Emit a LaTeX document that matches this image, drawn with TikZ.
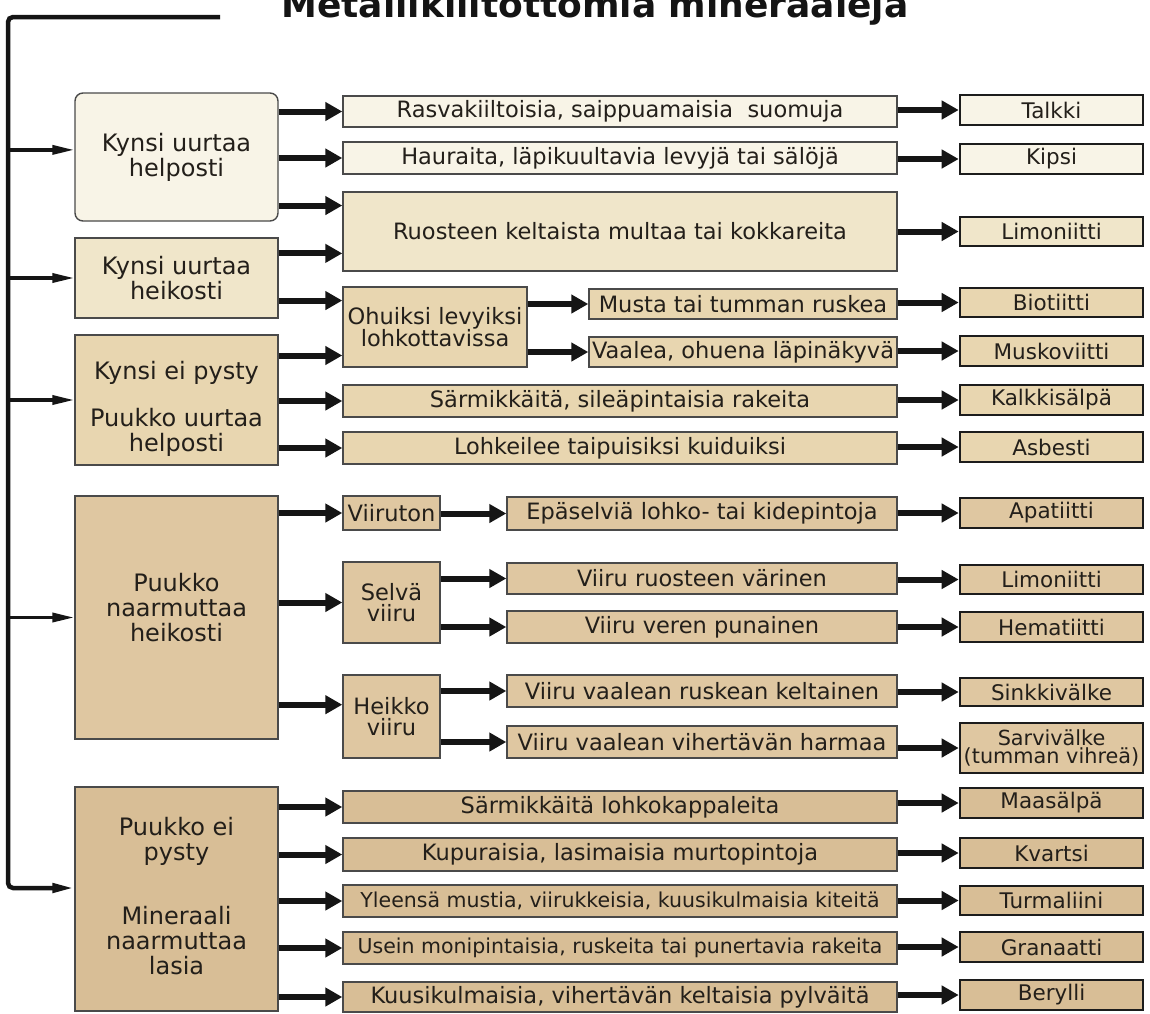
\documentclass[tikz,border=0pt]{standalone}
\usepackage{fontspec}
\setmainfont{DejaVu Sans}
\usetikzlibrary{arrows.meta,calc}
\definecolor{c1}{HTML}{F8F4E7}
\definecolor{c2}{HTML}{F0E6CA}
\definecolor{c3}{HTML}{E8D6B0}
\definecolor{c4}{HTML}{DFC7A1}
\definecolor{c5}{HTML}{D8BE96}
\definecolor{bd}{HTML}{4A4A4A}
\definecolor{fb}{HTML}{1C1C1C}
\definecolor{tx}{HTML}{231F1A}
\definecolor{ar}{HTML}{151515}
\begin{document}
\begin{tikzpicture}[x=1pt,y=-1pt,
  box/.style={draw=bd, line width=1.4pt, inner sep=0pt, align=center, text=tx},
  lbox/.style={box, font=\fontsize{24}{25}\selectfont},
  ltext/.style={inner sep=0pt, align=center, text=tx, font=\fontsize{24}{25}\selectfont},
  mbox/.style={box, font=\fontsize{22.5}{21}\selectfont},
  sbox/.style={box, font=\fontsize{20.5}{21}\selectfont},
  fbox/.style={draw=fb, line width=2.6pt, inner sep=0pt, align=center, text=tx, font=\fontsize{21.5}{16}\selectfont},
  arr/.style={line width=6pt, draw=ar, -{Triangle[length=17pt,width=18pt]}},
  tarr/.style={line width=3.5pt, draw=ar, -{Triangle[length=22pt,width=9pt]}},
  trunk/.style={line width=4.5pt, draw=ar, rounded corners=5pt}]
\useasboundingbox (0,0) rectangle (1150,1013);
\clip (0,0) rectangle (1150,1013);
\fill[white] (0,0) rectangle (1150,1013);

% title
\node[font=\fontsize{36}{36}\selectfont\bfseries, anchor=base, text=black!92] (title) at (595,17) {Metallikiiltottomia mineraaleja};

% left boxes
\node[lbox, fill=c1, rounded corners=8pt, minimum width=203, minimum height=128] (b1) at (176.5,157) {Kynsi uurtaa\\helposti};
\node[lbox, fill=c2, minimum width=203, minimum height=80] (b2) at (176.5,278) {Kynsi uurtaa\\heikosti};
\node[box, fill=c3, minimum width=203, minimum height=130] (b3) at (176.5,400) {};
\node[ltext] (t3) at (176.5,409) {Kynsi ei pysty\\[22pt]Puukko uurtaa\\helposti};
\node[box, fill=c4, minimum width=203, minimum height=243] (b4) at (176.5,617.5) {};
\node[ltext] (t4) at (176.5,608) {Puukko\\naarmuttaa\\heikosti};
\node[box, fill=c5, minimum width=203, minimum height=224] (b5) at (176.5,899) {};
\node[ltext] (t5) at (176.5,896) {Puukko ei\\pysty\\[39pt]Mineraali\\naarmuttaa\\lasia};

% middle boxes
\node[mbox, fill=c1, minimum width=554, minimum height=31] (m1) at (620,111.5) {Rasvakiiltoisia, saippuamaisia\ \ suomuja};
\node[mbox, fill=c1, minimum width=554, minimum height=32] (m2) at (620,158) {Hauraita, läpikuultavia levyjä tai sälöjä};
\node[mbox, fill=c2, minimum width=554, minimum height=79] (m3) at (620,231.5) {Ruosteen keltaista multaa tai kokkareita};
\node[mbox, fill=c3, minimum width=184, minimum height=80] (o) at (435,327) {Ohuiksi levyiksi\\lohkottavissa};
\node[mbox, fill=c3, minimum width=308, minimum height=30] (s1) at (743,304) {Musta tai tumman ruskea};
\node[mbox, fill=c3, minimum width=308, minimum height=30] (s2) at (743,352) {Vaalea, ohuena läpinäkyvä};
\node[mbox, fill=c3, minimum width=554, minimum height=32] (m4) at (620,401) {Särmikkäitä, sileäpintaisia rakeita};
\node[mbox, fill=c3, minimum width=554, minimum height=32] (m5) at (620,448) {Lohkeilee taipuisiksi kuiduiksi};

\node[mbox, fill=c4, minimum width=97, minimum height=34] (v0) at (391.5,513) {Viiruton};
\node[mbox, fill=c4, minimum width=97, minimum height=81] (v1) at (391.5,602.5) {Selvä\\viiru};
\node[mbox, fill=c4, minimum width=97, minimum height=83] (v2) at (391.5,716.5) {Heikko\\viiru};
\node[mbox, fill=c4, minimum width=390, minimum height=33] (e0) at (702,513.5) {Epäselviä lohko- tai kidepintoja};
\node[mbox, fill=c4, minimum width=390, minimum height=31] (e1) at (702,578.5) {Viiru ruosteen värinen};
\node[mbox, fill=c4, minimum width=390, minimum height=32] (e2) at (702,627) {Viiru veren punainen};
\node[mbox, fill=c4, minimum width=390, minimum height=32] (e3) at (702,691) {Viiru vaalean ruskean keltainen};
\node[mbox, fill=c4, minimum width=390, minimum height=32] (e4) at (702,742) {Viiru vaalean vihertävän harmaa};

\node[mbox, fill=c5, minimum width=554, minimum height=32] (n1) at (620,807) {Särmikkäitä lohkokappaleita};
\node[mbox, fill=c5, minimum width=554, minimum height=33] (n2) at (620,854.5) {Kupuraisia, lasimaisia murtopintoja};
\node[sbox, fill=c5, minimum width=554, minimum height=32] (n3) at (620,901) {Yleensä mustia, viirukkeisia, kuusikulmaisia kiteitä};
\node[sbox, fill=c5, minimum width=554, minimum height=32] (n4) at (620,948) {Usein monipintaisia, ruskeita tai punertavia rakeita};
\node[mbox, fill=c5, minimum width=554, minimum height=30] (n5) at (620,997) {Kuusikulmaisia, vihertävän keltaisia pylväitä};

% final boxes
\node[fbox, fill=c1, minimum width=183, minimum height=30] (f1) at (1051.5,110) {Talkki};
\node[fbox, fill=c1, minimum width=183, minimum height=30] (f2) at (1051.5,159) {Kipsi};
\node[fbox, fill=c2, minimum width=183, minimum height=29] (f3) at (1051.5,231.5) {Limoniitti};
\node[fbox, fill=c3, minimum width=183, minimum height=29] (f4) at (1051.5,302.5) {Biotiitti};
\node[fbox, fill=c3, minimum width=183, minimum height=30] (f5) at (1051.5,351) {Muskoviitti};
\node[fbox, fill=c3, minimum width=183, minimum height=30] (f6) at (1051.5,400) {Kalkkisälpä};
\node[fbox, fill=c3, minimum width=183, minimum height=30] (f7) at (1051.5,447) {Asbesti};
\node[fbox, fill=c4, minimum width=183, minimum height=30] (f8) at (1051.5,513) {Apatiitti};
\node[fbox, fill=c4, minimum width=183, minimum height=29] (f9) at (1051.5,579.5) {Limoniitti};
\node[fbox, fill=c4, minimum width=183, minimum height=30] (f10) at (1051.5,627) {Hematiitti};
\node[fbox, fill=c4, minimum width=183, minimum height=28] (f11) at (1051.5,692) {Sinkkivälke};
\node[fbox, fill=c4, minimum width=183, minimum height=50, font=\fontsize{20.8}{15.5}\selectfont] (f12) at (1051.5,748) {Sarvivälke\\(tumman vihreä)};
\node[fbox, fill=c5, minimum width=183, minimum height=30] (f13) at (1051.5,803) {Maasälpä};
\node[fbox, fill=c5, minimum width=183, minimum height=30] (f14) at (1051.5,853) {Kvartsi};
\node[fbox, fill=c5, minimum width=183, minimum height=29] (f15) at (1051.5,900.5) {Turmaliini};
\node[fbox, fill=c5, minimum width=183, minimum height=30] (f16) at (1051.5,947) {Granaatti};
\node[fbox, fill=c5, minimum width=183, minimum height=30] (f17) at (1051.5,995) {Berylli};

% helper coordinates
\coordinate (ttop) at (220,17);
\coordinate (tcorner) at (8,17);
\coordinate (tbot) at (8,888);
\coordinate (b1a) at ($(b1.north west)!0.445!(b1.south west)$);
\coordinate (m3a) at ($(m3.north west)!0.177!(m3.south west)$);
\coordinate (m3b) at ($(m3.north west)!0.772!(m3.south west)$);
\coordinate (oa) at ($(o.north west)!0.175!(o.south west)$);
\coordinate (ob) at ($(o.north west)!0.85!(o.south west)$);
\coordinate (v2a) at ($(v2.north west)!0.36!(v2.south west)$);

% trunk
\draw[trunk, -{Triangle[length=22pt,width=9pt]}] (ttop) -- (tcorner) -- (tbot) -- (b5.west |- tbot);
\draw[tarr] (tcorner |- b1a) -- (b1a);
\draw[tarr] (tcorner |- b2.west) -- (b2.west);
\draw[tarr] (tcorner |- b3.west) -- (b3.west);
\draw[tarr] (tcorner |- b4.west) -- (b4.west);

% left to middle
\draw[arr] (b1.east |- m1.west) -- (m1.west);
\draw[arr] (b1.east |- m2.west) -- (m2.west);
\draw[arr] (b1.east |- m3a) -- (m3a);
\draw[arr] (b2.east |- m3b) -- (m3b);
\draw[arr] (b2.east |- oa) -- (oa);
\draw[arr] (b3.east |- ob) -- (ob);
\draw[arr] (b3.east |- m4.west) -- (m4.west);
\draw[arr] (b3.east |- m5.west) -- (m5.west);
\draw[arr] (o.east |- s1.west) -- (s1.west);
\draw[arr] (o.east |- s2.west) -- (s2.west);
\draw[arr] (b4.east |- v0.west) -- (v0.west);
\draw[arr] (b4.east |- v1.west) -- (v1.west);
\draw[arr] (b4.east |- v2a) -- (v2a);
\draw[arr] (v0.east |- e0.west) -- (e0.west);
\draw[arr] (v1.east |- e1.west) -- (e1.west);
\draw[arr] (v1.east |- e2.west) -- (e2.west);
\draw[arr] (v2.east |- e3.west) -- (e3.west);
\draw[arr] (v2.east |- e4.west) -- (e4.west);
\foreach \n in {n1,n2,n3,n4,n5} \draw[arr] (b5.east |- \n.west) -- (\n.west);

% middle to final
\foreach \s/\f in {m1/f1,m2/f2,m3/f3,s1/f4,s2/f5,m4/f6,m5/f7,e0/f8,e1/f9,e2/f10,e3/f11,e4/f12,n1/f13,n2/f14,n3/f15,n4/f16,n5/f17}
  \draw[arr] (\s.east |- \f.west) -- (\f.west);
\end{tikzpicture}
\end{document}
